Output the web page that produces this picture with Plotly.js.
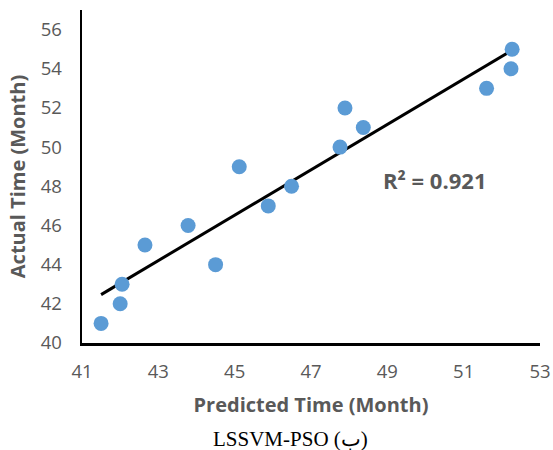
<!DOCTYPE html>
<html>
<head>
<meta charset="utf-8">
<script src="https://cdn.plot.ly/plotly-3.0.1.min.js"></script>
<style>html,body{margin:0;padding:0;background:#fff;}#chart{width:553px;height:450px;}</style>
</head>
<body>
<div id="chart"></div>
<script>
const predicted = [41.5, 42.0, 42.05, 42.65, 43.78, 44.5, 45.12, 45.88, 46.49, 47.76, 47.89, 48.37, 51.6, 52.24, 52.27];
const actual    = [41,   42,   43,    45,    46,    44,   49,    47,    48,    50,    52,    51,    53,   54,    55];
const xTicks = [41, 43, 45, 47, 49, 51, 53];
const yTicks = [40, 42, 44, 46, 48, 50, 52, 54, 56];
const r2Label = "R² = 0.921";
const xTitle = "Predicted Time (Month)";
const yTitle = "Actual Time (Month)";
const caption = "LSSVM-PSO (ب)";

// linear trendline from data (least squares)
const n = predicted.length;
const mx = predicted.reduce((a,b)=>a+b,0)/n;
const my = actual.reduce((a,b)=>a+b,0)/n;
let sxy=0, sxx=0;
for (let i=0;i<n;i++){ sxy += (predicted[i]-mx)*(actual[i]-my); sxx += (predicted[i]-mx)**2; }
const slope = sxy/sxx, icpt = my - slope*mx;
const xmin = Math.min(...predicted), xmax = Math.max(...predicted);
const trendX = [xmin, xmax];
const trendY = trendX.map(v => icpt + slope*v);

const grey = '#595959';
const data = [
  {x: trendX, y: trendY, mode: 'lines', type: 'scatter', line: {color: '#000', width: 3}, hoverinfo: 'skip'},
  {x: predicted, y: actual, mode: 'markers', type: 'scatter', marker: {color: '#5B9BD5', size: 15}}
];
const layout = {
  width: 553, height: 450,
  margin: {l: 82, r: 13, t: 10, b: 107},
  paper_bgcolor: '#fff', plot_bgcolor: '#fff',
  showlegend: false,
  font: {family: 'Open Sans, sans-serif', color: grey},
  xaxis: {
    range: [41, 53], tickvals: xTicks, ticktext: xTicks.map(String),
    showgrid: false, zeroline: false, showline: true, linecolor: '#000', linewidth: 2.5,
    ticks: '', ticklabelstandoff: 10, tickfont: {size: 18.5, color: grey},
    title: {text: xTitle, font: {size: 20, color: grey, weight: 'bold'}, standoff: 17}
  },
  yaxis: {
    range: [40, 57], tickvals: yTicks, ticktext: yTicks.map(String),
    showgrid: false, zeroline: false, showline: true, linecolor: '#000', linewidth: 2.5,
    ticks: '', ticklabelstandoff: 14, tickfont: {size: 18.5, color: grey},
    title: {text: yTitle, font: {size: 20, color: grey, weight: 'bold'}, standoff: 10}
  },
  annotations: [
    {text: r2Label, xref: 'paper', yref: 'paper', x: 0.652, y: 0.489, xanchor: 'left', yanchor: 'middle',
     showarrow: false, font: {size: 22, color: grey, weight: 'bold'}},
    {text: caption, xref: 'paper', yref: 'paper', x: 0.456, y: -0.287, xanchor: 'center', yanchor: 'middle',
     showarrow: false, font: {size: 21, color: '#000', family: 'Liberation Serif, serif'}}
  ]
};
Plotly.newPlot('chart', data, layout, {displayModeBar: false, staticPlot: true});
</script>
</body>
</html>
